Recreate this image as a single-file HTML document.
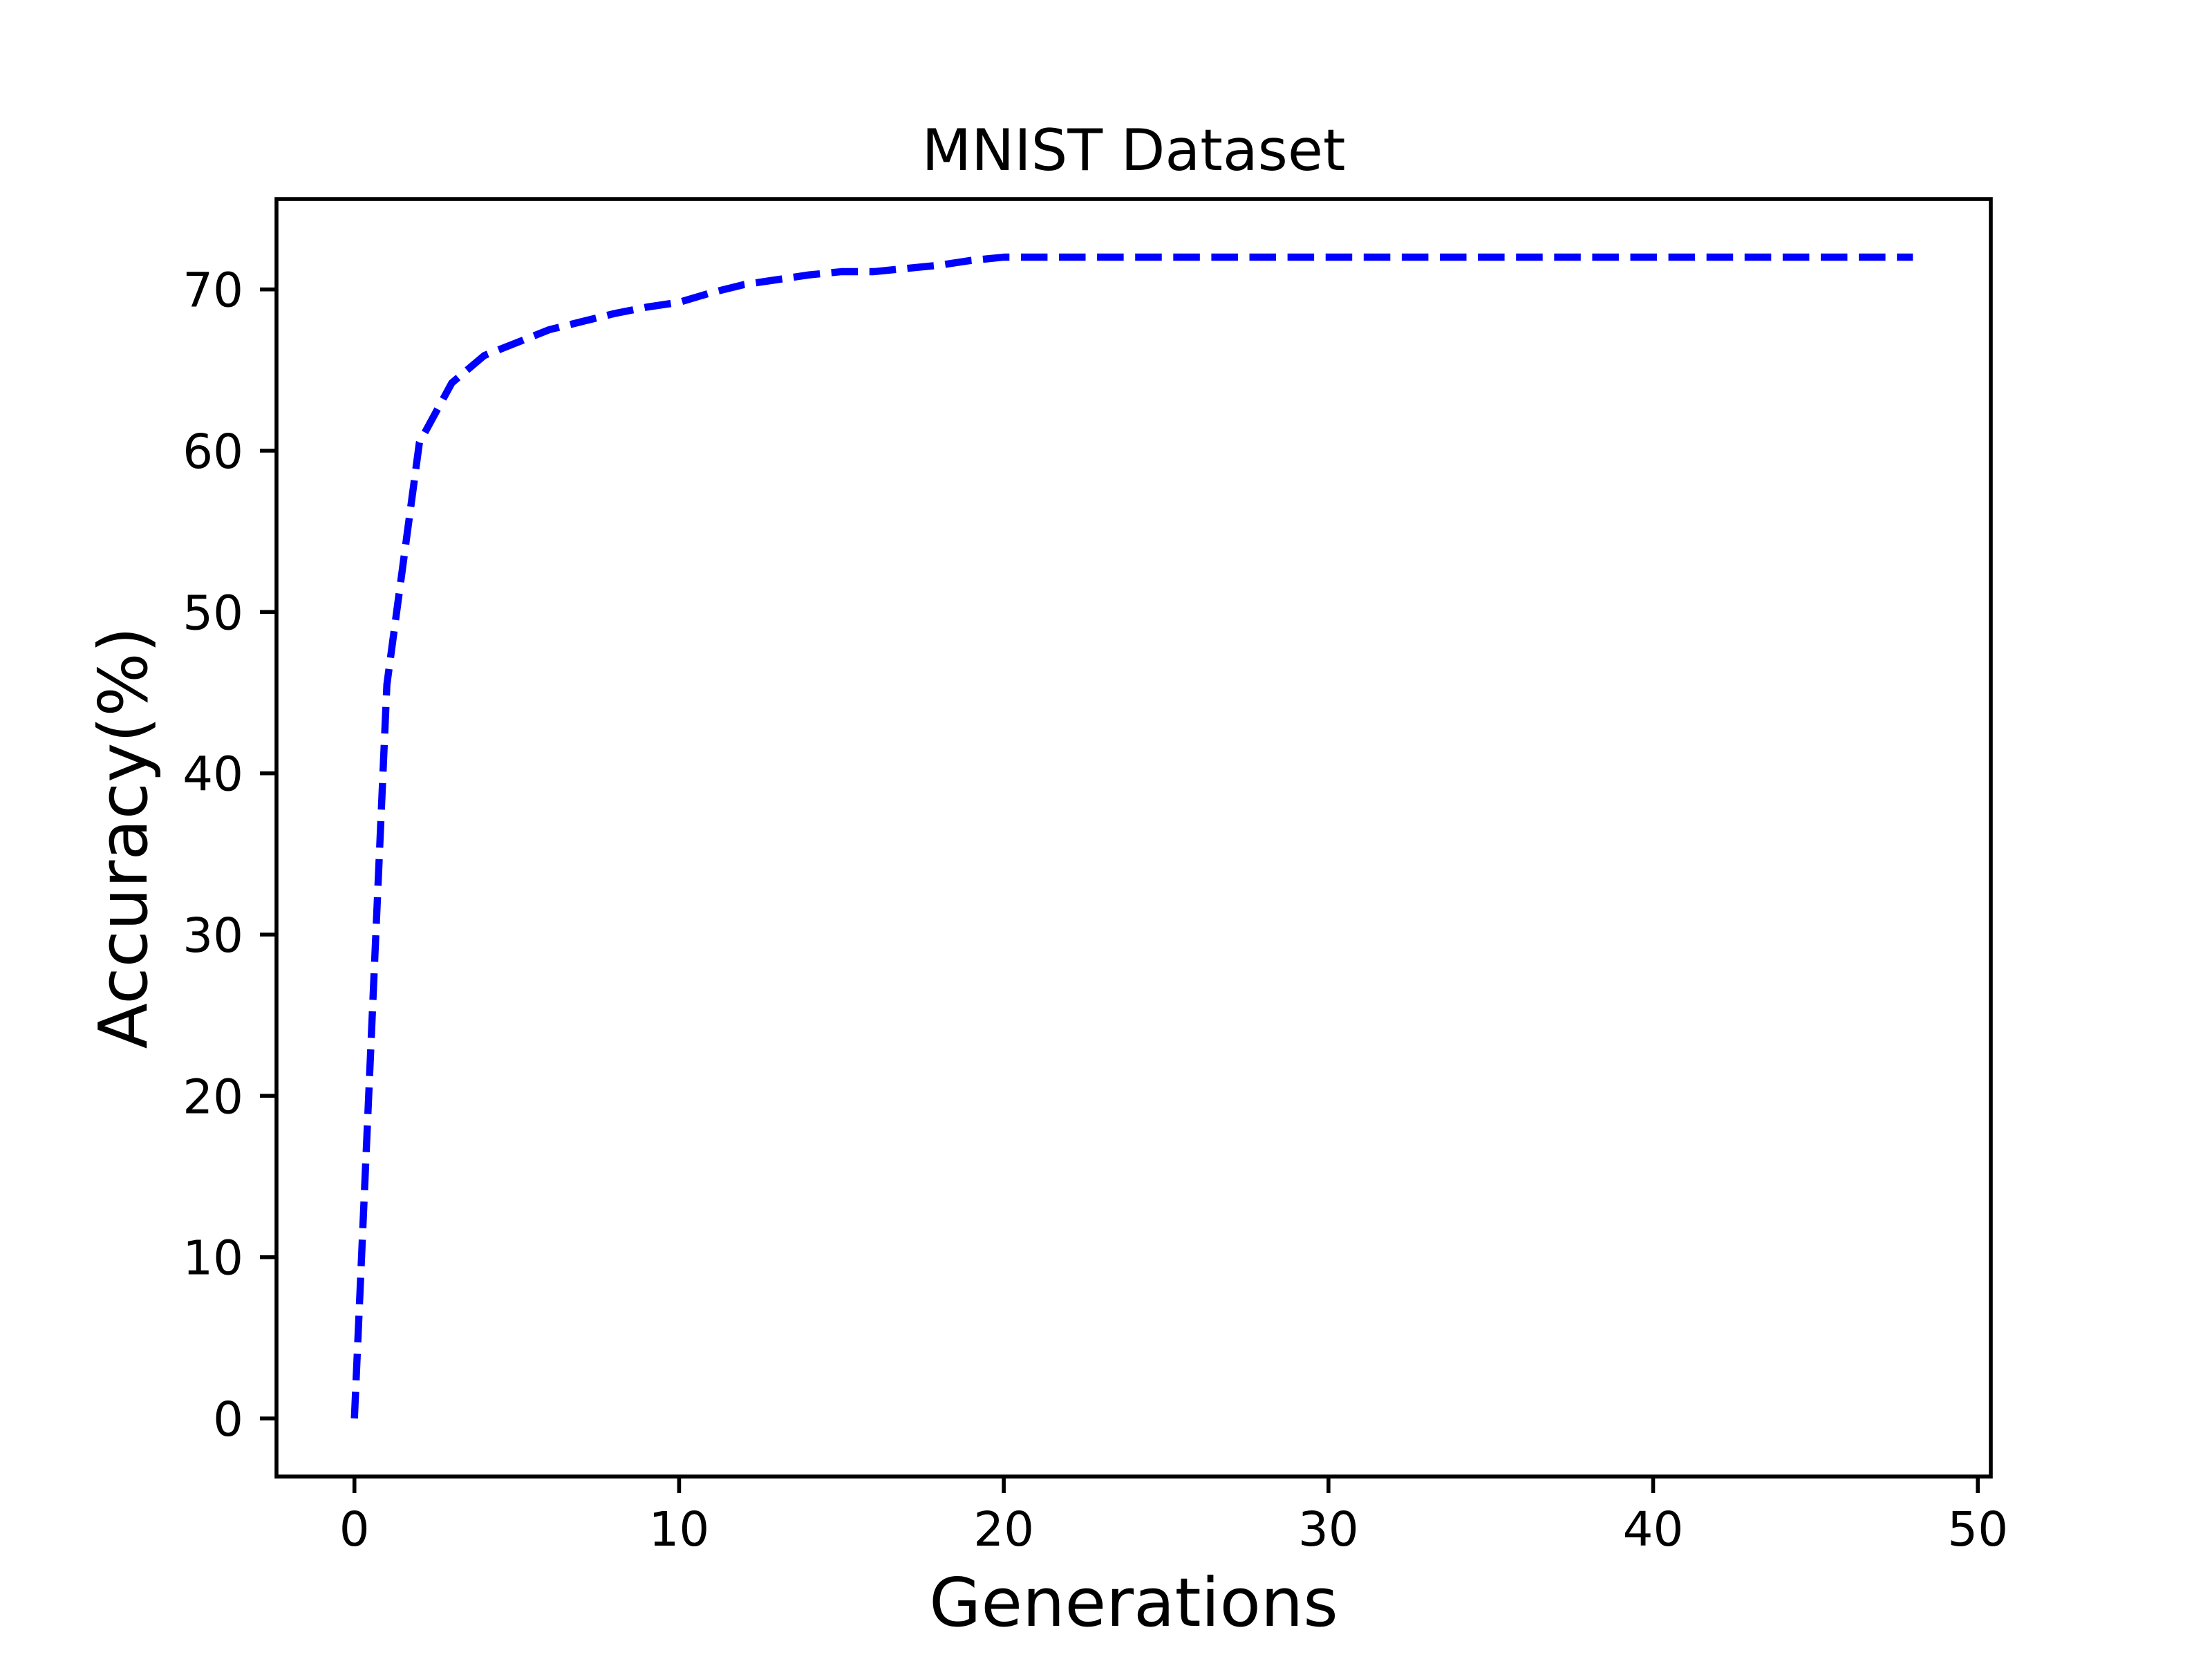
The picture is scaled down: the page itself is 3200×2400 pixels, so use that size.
<!DOCTYPE html>
<html><head><meta charset="utf-8"><style>
html,body{margin:0;padding:0;background:#fff;}
svg{display:block;font-family:"DejaVu Sans","Liberation Sans",sans-serif;}
</style></head><body>
<svg id="chart" width="3200" height="2400" viewBox="0 0 3200 2400" xmlns="http://www.w3.org/2000/svg">
<rect width="3200" height="2400" fill="#fff"/>
<text x="1640" y="246" font-size="83" text-anchor="middle">MNIST Dataset</text>
<g id="plot"></g>
<rect x="400" y="288" width="2480" height="1848" fill="none" stroke="#000" stroke-width="5.6"/>
<text x="1640" y="2352" font-size="97" text-anchor="middle">Generations</text>
<text transform="translate(212,1212) rotate(-90)" x="0" y="0" font-size="97" text-anchor="middle">Accuracy(%)</text>
</svg>
<script>
const generations = [0,1,2,3,4,5,6,7,8,9,10,11,12,13,14,15,16,17,18,19,20,21,22,23,24,25,26,27,28,29,30,31,32,33,34,35,36,37,38,39,40,41,42,43,44,45,46,47,48];
const accuracy = [0,45.5,60.5,64.2,65.9,66.7,67.5,68.0,68.5,68.9,69.2,69.8,70.3,70.6,70.9,71.1,71.1,71.3,71.5,71.8,72,72,72,72,72,72,72,72,72,72,72,72,72,72,72,72,72,72,72,72,72,72,72,72,72,72,72,72,72];
const xTicks = [0,10,20,30,40,50];
const yTicks = [0,10,20,30,40,50,60,70];

const L=400,R=2880,T=288,B=2136;
const xmin=-2.4,xmax=50.4,ymin=-3.6,ymax=75.6;
const sx=v=>L+(v-xmin)/(xmax-xmin)*(R-L);
const sy=v=>B-(v-ymin)/(ymax-ymin)*(B-T);
const NS="http://www.w3.org/2000/svg";
const g=document.getElementById('plot');

xTicks.forEach(t=>{
  const ln=document.createElementNS(NS,'line');
  ln.setAttribute('x1',sx(t));ln.setAttribute('x2',sx(t));
  ln.setAttribute('y1',B);ln.setAttribute('y2',B+24);
  ln.setAttribute('stroke','#000');ln.setAttribute('stroke-width','5.6');
  
  
  g.appendChild(ln);
  const tx=document.createElementNS(NS,'text');
  tx.setAttribute('x',sx(t));tx.setAttribute('y',B+100);
  tx.setAttribute('font-size','69');tx.setAttribute('text-anchor','middle');
  tx.textContent=t;
  
  
  g.appendChild(tx);
});
yTicks.forEach(t=>{
  const ln=document.createElementNS(NS,'line');
  ln.setAttribute('x1',L-24);ln.setAttribute('x2',L);
  ln.setAttribute('y1',sy(t));ln.setAttribute('y2',sy(t));
  ln.setAttribute('stroke','#000');ln.setAttribute('stroke-width','5.6');
  
  
  g.appendChild(ln);
  const tx=document.createElementNS(NS,'text');
  tx.setAttribute('x',L-48);tx.setAttribute('y',sy(t)+25);
  tx.setAttribute('font-size','69');tx.setAttribute('text-anchor','end');
  tx.textContent=t;
  
  
  g.appendChild(tx);
});
const pts=generations.map((x,i)=>sx(x).toFixed(1)+','+sy(accuracy[i]).toFixed(1)).join(' ');
const pl=document.createElementNS(NS,'polyline');
pl.setAttribute('points',pts);
pl.setAttribute('fill','none');pl.setAttribute('stroke','#0000ff');
pl.setAttribute('stroke-width','10.4');pl.setAttribute('stroke-dasharray','38.5 16.6');
pl.setAttribute('stroke-linejoin','round');


g.appendChild(pl);
</script>
</body></html>
